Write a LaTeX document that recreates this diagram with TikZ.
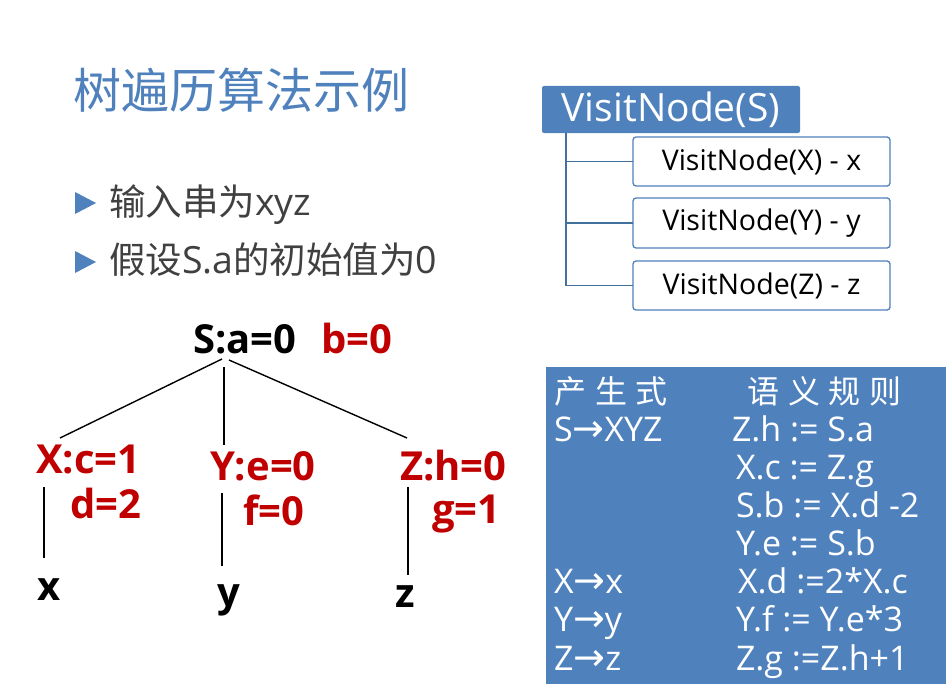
\documentclass[tikz,border=0pt]{standalone}
\usepackage{fontspec}
\setmainfont{Open Sans}
\newfontfamily\cjk{Noto Sans CJK SC}
\newfontfamily\arrowfont{DejaVu Sans}
\usetikzlibrary{calc}
\definecolor{accent}{HTML}{4F81BD}
\definecolor{connblue}{HTML}{41719C}
\definecolor{textgray}{HTML}{404040}
\definecolor{attrred}{HTML}{C00000}
\newcommand\myfs[1]{\fontsize{#1}{#1}\selectfont}
\newcommand\arr{{\arrowfont\myfs{38}→}}
\newcommand\cg{\hspace{9pt}}
\begin{document}
\begin{tikzpicture}[x=1pt,y=-1pt,
  every node/.style={inner sep=0pt, outer sep=0pt},
  treetext/.style={font=\bfseries\myfs{40}, anchor=base west},
  redtext/.style={treetext, text=attrred},
  treeline/.style={draw=black, line width=1.4pt},
  childbox/.style={draw=accent, line width=1.3pt, fill=white, rounded corners=3pt,
     minimum width=257pt, font=\myfs{28.5}, anchor=north west},
  conn/.style={draw=connblue, line width=1.3pt},
  tabtext/.style={text=white, font=\myfs{34}, anchor=base west},
  bulletmark/.style={fill=accent}]
\path[use as bounding box, fill=white] (0,0) rectangle (952,698);

% title and bullets
\node[anchor=base west, text=accent, font=\cjk\myfs{48}] (title) at (73,109) {树遍历算法示例};
\fill[bulletmark] (75,192) -- (96,203) -- (75,214) -- cycle;
\fill[bulletmark] (75,251) -- (96,262) -- (75,273) -- cycle;
\node[anchor=base west, text=textgray, font=\myfs{37.5}] (b1) at (109,215) {{\cjk\myfs{36.5}输入串为}xyz};
\node[anchor=base west, text=textgray, font=\myfs{37.5}] (b2) at (109,273) {{\cjk\myfs{36.5}假设}S.a{\cjk\myfs{36.5}的初始值为}0};

% VisitNode boxes
\node[fill=accent, rounded corners=2pt, minimum width=258pt, minimum height=47pt,
      text=white, font=\myfs{39}, anchor=north west] (vs) at (542,86) {VisitNode(S)};
\node[childbox, minimum height=49pt] (vx) at (633,137) {VisitNode(X) - x};
\node[childbox, minimum height=50pt] (vy) at (633,198) {VisitNode(Y) - y};
\node[childbox, minimum height=49pt] (vz) at (633,261) {VisitNode(Z) - z};
\coordinate (trunk) at ($(vs.south west)+(24,0)$);
\draw[conn] (trunk) |- (vx.west);
\draw[conn] (trunk) |- (vy.west);
\draw[conn] (trunk) |- (vz.west);

% tree
\node[treetext] (S) at (193,353) {S:a=0};
\node[redtext] (Sb) at (321,353) {b=0};
\node[redtext] (X) at (36,473) {X:c=1};
\node[redtext] (Xd) at (70,518) {d=2};
\node[redtext] (Y) at (210,480) {Y:e=0};
\node[redtext] (Yf) at (243,525) {f=0};
\node[redtext] (Z) at (400,480) {Z:h=0};
\node[redtext] (Zg) at (432,523) {g=1};
\node[treetext] (lx) at (37,600) {x};
\node[treetext] (ly) at (217,606) {y};
\node[treetext] (lz) at (395,607) {z};

\coordinate (sL) at (222,359); \coordinate (xT) at (60,438);
\coordinate (sM) at (224,367); \coordinate (yT) at (224,445);
\coordinate (sR) at (229,360); \coordinate (zT) at (407,438);
\coordinate (xB) at (44,487);  \coordinate (xE) at (44,558);
\coordinate (yB) at (222,493); \coordinate (yE) at (222,566);
\coordinate (zB) at (408,487); \coordinate (zE) at (408,575);
\draw[treeline] (sL) -- (xT);
\draw[treeline] (sM) -- (yT);
\draw[treeline] (sR) -- (zT);
\draw[treeline] (xB) -- (xE);
\draw[treeline] (yB) -- (yE);
\draw[treeline] (zB) -- (zE);

% rule table
\node[fill=accent, minimum width=400pt, minimum height=317pt, anchor=north west] (tbl) at (546,367) {};
\node[tabtext, font=\cjk\myfs{32}] (h1) at (554,403) {产\cg 生\cg 式};
\node[tabtext, font=\cjk\myfs{32}] (h2) at (747,403) {语\cg 义\cg 规\cg 则};
\node[tabtext] (p1) at (554,441) {S\arr XYZ};
\node[tabtext] (p2) at (554,593) {X\arr x};
\node[tabtext] (p3) at (554,631) {Y\arr y};
\node[tabtext] (p4) at (554,670) {Z\arr z};
\node[tabtext] (r1) at (732,441) {Z.h := S.a};
\node[tabtext] (r2) at (736,479) {X.c := Z.g};
\node[tabtext] (r3) at (736,517) {S.b := X.d -2};
\node[tabtext] (r4) at (736,555) {Y.e := S.b};
\node[tabtext] (r5) at (738,593) {X.d :=2*X.c};
\node[tabtext] (r6) at (736,631) {Y.f := Y.e*3};
\node[tabtext] (r7) at (736,670) {Z.g :=Z.h+1};
\end{tikzpicture}
\end{document}
